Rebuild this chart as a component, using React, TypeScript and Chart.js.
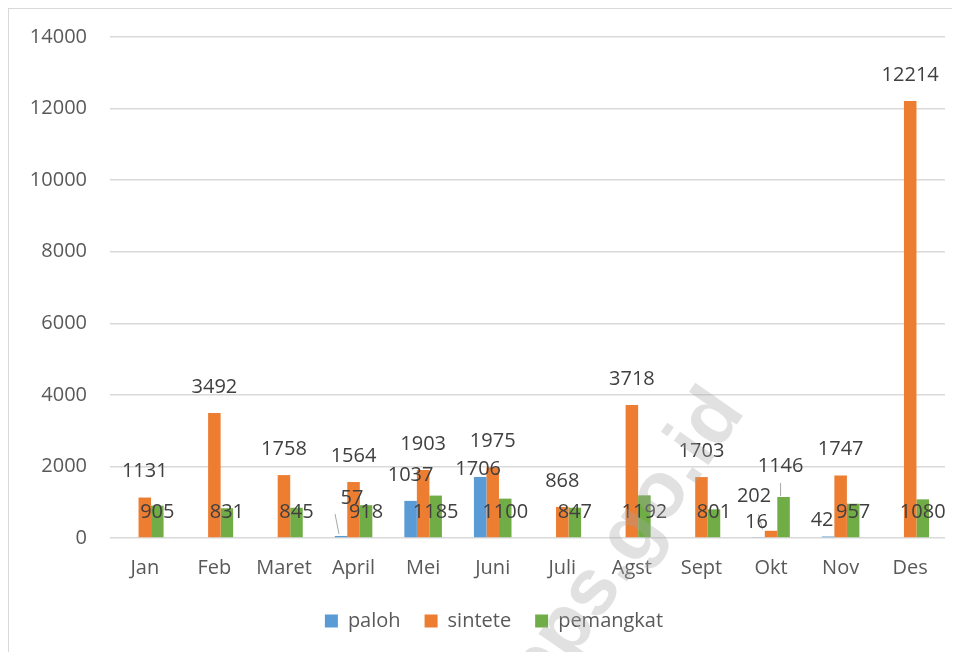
import React, { useEffect, useRef } from "react";
import { Chart, registerables } from "chart.js";

Chart.register(...registerables);

const months = ["Jan", "Feb", "Maret", "April", "Mei", "Juni", "Juli", "Agst", "Sept", "Okt", "Nov", "Des"];
const paloh = [null, null, null, 57, 1037, 1706, null, null, null, 16, 42, null];
const sintete = [1131, 3492, 1758, 1564, 1903, 1975, 868, 3718, 1703, 202, 1747, 12214];
const pemangkat = [905, 831, 845, 918, 1185, 1100, 847, 1192, 801, 1146, 957, 1080];
const seriesNames = ["paloh", "sintete", "pemangkat"];
const seriesColors = ["#5B9BD5", "#ED7D31", "#70AD47"];
const yMin = 0;
const yMax = 14000;
const yStep = 2000;
const watermark = "sambaskab.bps.go.id";

const FONT = "'Open Sans', 'Noto Sans', sans-serif";

// label nudges (dataset-index) -> pixel offsets for a few crowded labels
const nudges: Record<string, { dx: number; dy: number; leader?: string }> = {
  "0-3": { dx: 11, dy: -12, leader: "slant" },
  "0-5": { dx: -2, dy: 18 },
  "0-9": { dx: -2, dy: 11, leader: "slant2" },
  "0-10": { dx: -6, dy: 10 },
  "1-9": { dx: -17, dy: -8 },
  "2-9": { dx: -3, dy: -46, leader: "vertical" },
};

const labelPlugin = {
  id: "valueLabels",
  afterLayout(chart: any) {
    if (chart.legend) {
      chart.legend.left += 17;
      chart.legend.right += 17;
    }
  },
  afterDatasetsDraw(chart: any) {
    const ctx = chart.ctx;
    const y0 = chart.scales.y.getPixelForValue(0);
    ctx.save();
    ctx.font = `20px ${FONT}`;
    ctx.fillStyle = "#404040";
    ctx.textAlign = "center";
    ctx.textBaseline = "middle";
    chart.data.datasets.forEach((ds: any, di: number) => {
      const meta = chart.getDatasetMeta(di);
      meta.data.forEach((bar: any, i: number) => {
        const v = ds.data[i];
        if (v == null) return;
        let x = bar.x;
        let y = di === 2 ? y0 - 26 : bar.y - 26;
        const n = nudges[`${di}-${i}`];
        if (n) {
          x += n.dx;
          y += n.dy;
          if (n.leader) {
            ctx.save();
            ctx.strokeStyle = "#a6a6a6";
            ctx.lineWidth = 1;
            ctx.beginPath();
            if (n.leader === "slant") {
              ctx.moveTo(bar.x - 6, y + 16);
              ctx.lineTo(bar.x - 2, bar.y - 2);
            } else if (n.leader === "slant2") {
              ctx.moveTo(bar.x, y - 8);
              ctx.lineTo(bar.x + 4, y + 7);
            } else {
              ctx.moveTo(bar.x - 3, y + 17);
              ctx.lineTo(bar.x - 3, bar.y - 1);
            }
            ctx.stroke();
            ctx.restore();
          }
        }
        ctx.fillText(String(v), x, y);
      });
    });
    ctx.restore();
  },
  afterDraw(chart: any) {
    const ctx = chart.ctx;
    const area = chart.chartArea;
    ctx.save();
    ctx.translate(area.left + 0.74 * (area.right - area.left), area.top + 0.722 * (area.bottom - area.top));
    ctx.rotate((-55 * Math.PI) / 180);
    ctx.font = `bold 80px 'Liberation Sans', Arial, sans-serif`;
    ctx.fillStyle = "rgba(165,165,165,0.33)";
    ctx.textAlign = "right";
    ctx.textBaseline = "middle";
    ctx.fillText(watermark, 0, 0);
    ctx.restore();
  },
};

export default function App() {
  const ref = useRef<HTMLCanvasElement | null>(null);
  useEffect(() => {
    if (!ref.current) return;
    const data = [paloh, sintete, pemangkat];
    const chart = new Chart(ref.current, {
      type: "bar",
      data: {
        labels: months,
        datasets: data.map((d, i) => ({
          label: seriesNames[i],
          data: d as any,
          backgroundColor: seriesColors[i],
          borderWidth: 0,
          barPercentage: 1,
          categoryPercentage: 0.54,
        })),
      },
      options: {
        animation: false,
        responsive: false,
        maintainAspectRatio: false,
        layout: { padding: { top: 28, right: 15, bottom: 11, left: 0 } },
        plugins: {
          legend: {
            position: "bottom",
            labels: {
              font: { family: FONT, size: 20 },
              color: "#595959",
              boxWidth: 13,
              boxHeight: 13,
              padding: 24,
            },
          },
          tooltip: { enabled: false },
          title: { display: false },
        },
        scales: {
          x: {
            grid: { display: false },
            border: { display: false },
            ticks: {
              font: { family: FONT, size: 20 },
              color: "#595959",
              padding: 10,
              maxRotation: 0,
              autoSkip: false,
            },
            afterFit: (s: any) => {
              s.height = 49;
            },
          },
          y: {
            min: yMin,
            max: yMax,
            ticks: {
              stepSize: yStep,
              font: { family: FONT, size: 20 },
              color: "#595959",
              padding: 23,
              callback: (v: any) => String(v),
            },
            grid: { color: "#d9d9d9", drawTicks: false, lineWidth: 1.5 },
            border: { display: false },
            afterFit: (s: any) => {
              s.width = 101;
              s.paddingTop = 10;
              s.paddingBottom = 10;
            },
          },
        },
      },
      plugins: [labelPlugin],
    });
    return () => chart.destroy();
  }, []);

  return (
    <div
      style={{
        width: 951,
        height: 643,
        borderLeft: "1px solid #d9d9d9",
        borderTop: "1px solid #d9d9d9",
        background: "#fff",
      }}
    >
      <canvas ref={ref} width={951} height={643} style={{ display: "block", width: 951, height: 643 }} />
    </div>
  );
}
